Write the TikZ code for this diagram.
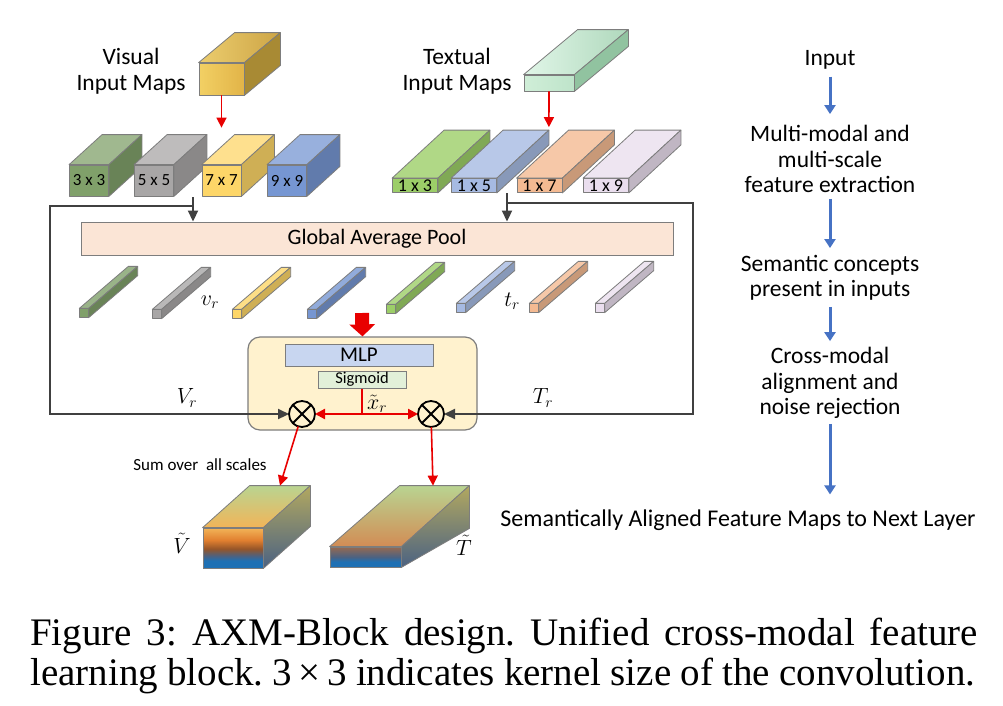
\RequirePackage{fix-cm}
\documentclass[tikz,border=0pt]{standalone}
\usepackage{amsmath}
\usepackage{fontspec}
\setmainfont{Carlito}
\newfontfamily\capfont{Liberation Serif}
\usepackage{tikz}
\usetikzlibrary{arrows.meta}

\begin{document}
\begin{tikzpicture}[x=1pt,y=-1pt,
  face/.style={draw=edge, line width=0.8pt, line join=round},
  vfront/.style={face, minimum width=39pt, minimum height=31pt, inner sep=0pt, font=\fontsize{17}{17}\selectfont},
  tfront/.style={face, minimum width=45pt, minimum height=14pt, inner sep=0pt, font=\fontsize{18}{18}\selectfont},
  barfront/.style={face, minimum size=8.5pt, inner sep=0pt},
  lbl/.style={inner sep=0pt, align=center, font=\fontsize{23.5}{25.5}\selectfont},
  mth/.style={inner sep=0pt, font=\fontsize{22}{26}\selectfont},
  fb/.style={draw=fbgray, line width=2.2pt},
  fbtip/.style={fb, -{Triangle[length=11pt,width=10pt]}},
  redarrow/.style={draw=arrred, line width=1.6pt, -{Triangle[length=10pt,width=10pt]}},
  bluearrow/.style={draw=arrblue, line width=3pt, -{Triangle[length=9pt,width=11pt]}},
  mult/.style={circle, draw=black, line width=1.8pt, minimum size=26pt, inner sep=0pt, outer sep=0pt}]
\definecolor{edge}{RGB}{125,125,125}
\definecolor{fbgray}{RGB}{64,64,64}
\definecolor{arrred}{RGB}{232,0,0}
\definecolor{arrblue}{RGB}{70,114,196}
\definecolor{vgreen}{RGB}{128,160,106}
\definecolor{vgray}{RGB}{168,166,166}
\definecolor{vyellow}{RGB}{253,214,104}
\definecolor{vblue}{RGB}{118,150,210}
\definecolor{tgreen}{RGB}{156,206,104}
\definecolor{tblue}{RGB}{166,186,226}
\definecolor{torange}{RGB}{244,186,146}
\definecolor{tlilac}{RGB}{234,222,238}
\definecolor{gapfill}{RGB}{251,229,214}
\definecolor{fusefill}{RGB}{255,242,206}
\definecolor{mlpfill}{RGB}{200,214,240}
\definecolor{sigfill}{RGB}{226,240,217}
\definecolor{vinl}{RGB}{242,208,100}
\definecolor{vinr}{RGB}{226,180,72}
\definecolor{vintl}{RGB}{236,205,110}
\definecolor{vintr}{RGB}{205,165,70}
\definecolor{vinside}{RGB}{168,138,52}
\definecolor{tinl}{RGB}{208,238,216}
\definecolor{tinr}{RGB}{190,228,202}
\definecolor{tintl}{RGB}{225,246,232}
\definecolor{tintr}{RGB}{175,216,188}
\definecolor{tinside}{RGB}{145,195,160}
\definecolor{ob}{RGB}{30,112,180}
\definecolor{oslate}{RGB}{75,98,130}
\definecolor{obrown}{RGB}{150,85,40}
\definecolor{oorange}{RGB}{225,128,48}
\definecolor{oyel}{RGB}{242,180,88}
\definecolor{ogreen}{RGB}{185,212,145}
\definecolor{ogold}{RGB}{248,212,115}
\definecolor{solive}{RGB}{178,168,96}
\definecolor{tfbrown}{RGB}{150,105,80}
\definecolor{tfront}{RGB}{210,140,85}
\pgfdeclareverticalshading{vfshade}{100bp}{color(0bp)=(ob); color(34bp)=(ob); color(40bp)=(oslate); color(49bp)=(obrown); color(60bp)=(oorange); color(75bp)=(oyel); color(100bp)=(oyel)}
\pgfdeclareverticalshading{tfshade}{100bp}{color(0bp)=(ob); color(38bp)=(ob); color(50bp)=(oslate); color(75bp)=(tfbrown); color(100bp)=(tfbrown)}

\fill[white] (0,0) rectangle (1003,705);
\useasboundingbox (0,0) rectangle (1003,705);

% inputs
\node[lbl] (vislbl) at (131,71) {Visual\\Input Maps};
\node[lbl] (txtlbl) at (457,71) {Textual\\Input Maps};
\node[face, minimum width=45pt, minimum height=32pt, inner sep=0pt, left color=vinl, right color=vinr] (vin) at (221.5,79) {};
\shade[face, left color=vintl, right color=vintr] (vin.north west) -- ++(36,-30) -- ([shift={(36,-30)}]vin.north east) -- (vin.north east) -- cycle;
\filldraw[face, fill=vinside] (vin.north east) -- ++(36,-30) -- ([shift={(36,-30)}]vin.south east) -- (vin.south east) -- cycle;
\node[face, minimum width=50pt, minimum height=16pt, inner sep=0pt, left color=tinl, right color=tinr] (tin) at (549,83) {};
\shade[face, left color=tintl, right color=tintr] (tin.north west) -- ++(54,-45) -- ([shift={(54,-45)}]tin.north east) -- (tin.north east) -- cycle;
\filldraw[face, fill=tinside] (tin.north east) -- ++(54,-45) -- ([shift={(54,-45)}]tin.south east) -- (tin.south east) -- cycle;

% multi-scale maps
\foreach \nm/\cx/\lab/\col in {v3/89/3 x 3/vgreen, v5/154/5 x 5/vgray, v7/221.5/7 x 7/vyellow, v9/287/9 x 9/vblue}{
  \node[vfront, fill=\col] (\nm) at (\cx,180.5) {\lab};
  \filldraw[face, fill=\col!75!white] (\nm.north west) -- ++(33,-30) -- ([shift={(33,-30)}]\nm.north east) -- (\nm.north east) -- cycle;
  \filldraw[face, fill=\col!82!black] (\nm.north east) -- ++(33,-30) -- ([shift={(33,-30)}]\nm.south east) -- (\nm.south east) -- cycle;
}
\foreach \nm/\cx/\lab/\col in {t3/415/1 x 3/tgreen, t5/474/1 x 5/tblue, t7/539.5/1 x 7/torange, t9/606/1 x 9/tlilac}{
  \node[tfront, fill=\col] (\nm) at (\cx,185.5) {\lab};
  \filldraw[face, fill=\col!80!white] (\nm.north west) -- ++(52,-48) -- ([shift={(52,-48)}]\nm.north east) -- (\nm.north east) -- cycle;
  \filldraw[face, fill=\col!82!black] (\nm.north east) -- ++(52,-48) -- ([shift={(52,-48)}]\nm.south east) -- (\nm.south east) -- cycle;
}
\draw[redarrow] (vin.south) -- ([yshift=37pt]v7.north);
\draw[redarrow] (tin.south) -- ([shift={(52,-51)}]t5.north east);

% pooling
\node[draw=edge, fill=gapfill, line width=1pt, minimum width=592pt, minimum height=33pt, inner sep=0pt, font=\fontsize{22}{22}\selectfont] (gap) at (377,238.5) {Global Average Pool};
\foreach \i/\bx/\by/\col in {1/80/317/vgreen, 2/153/318/vgray, 3/233/318/vyellow, 4/308/318/vblue, 5/387/313/tgreen, 6/457/312/tblue, 7/530/312/torange, 8/596/312/tlilac}{
  \node[barfront, fill=\col] (bar\i) at (\bx+4,\by-4) {};
  \filldraw[face, fill=\col!80!white] (bar\i.north west) -- ++(49,-42) -- ([shift={(49,-42)}]bar\i.north east) -- (bar\i.north east) -- cycle;
  \filldraw[face, fill=\col!82!black] (bar\i.north east) -- ++(49,-42) -- ([shift={(49,-42)}]bar\i.south east) -- (bar\i.south east) -- cycle;
}
\node[mth] (vr) at (210,302) {$v_r$};
\node[mth] (tr) at (512,301) {$t_r$};

% fusion block
\node[draw=edge, fill=fusefill, rounded corners=12pt, line width=1.2pt, minimum width=229pt, minimum height=93pt] (fuse) at (362.5,383.5) {};
\node[draw=edge, fill=mlpfill, line width=1pt, minimum width=148pt, minimum height=22pt, inner sep=0pt, font=\fontsize{21}{21}\selectfont] (mlp) at (359,355) {MLP};
\node[draw=edge, fill=sigfill, line width=1pt, minimum width=88pt, minimum height=17pt, inner sep=0pt, font=\fontsize{16.5}{16.5}\selectfont] (sig) at (362,379.5) {Sigmoid};
\node[mult] (m1) at (302,414) {};
\node[mult] (m2) at (431,414) {};
\draw[line width=1.8pt] (m1.north west) -- (m1.south east) (m1.north east) -- (m1.south west);
\draw[line width=1.8pt] (m2.north west) -- (m2.south east) (m2.north east) -- (m2.south west);
\coordinate (bigs) at (362,313);
\draw[line width=14pt, draw=arrred, -{Triangle[length=12pt,width=25pt]}] (bigs) -- (fuse.north);
\coordinate (xj) at (sig.south |- m1);
\draw[draw=arrred, line width=2.2pt] (sig.south) -- (xj);
\draw[redarrow, line width=2.2pt] (xj) -- (m1);
\draw[redarrow, line width=2.2pt] (xj) -- (m2);
\node[mth] (xr) at (377,404) {$\tilde{x}_r$};

% feedback of the maps
\coordinate (vtap) at (193,197);
\coordinate (vsplit) at (193,206);
\coordinate (vcorner) at (50,414);
\coordinate (ttap) at (507,193);
\coordinate (tsplit) at (507,203);
\coordinate (tcorner) at (693,414);
\draw[fbtip] (vtap) -- (vtap |- gap.north);
\draw[fbtip] (ttap) -- (ttap |- gap.north);
\draw[fbtip] (vsplit) -| (vcorner) -- (m1);
\draw[fbtip] (tsplit) -| (tcorner) -- (m2);
\node[mth] (vrr) at (187,398) {$V_r$};
\node[mth] (trr) at (543,398) {$T_r$};

% outputs
\node[face, minimum width=60pt, minimum height=40pt, inner sep=0pt, shade, shading=vfshade] (vout) at (233,548) {};
\shade[face, top color=ogreen, middle color=ogold, bottom color=oyel] (vout.north west) -- ++(47,-42) -- ([shift={(47,-42)}]vout.north east) -- (vout.north east) -- cycle;
\shade[face, top color=solive, middle color=obrown!85!black, bottom color=oslate] (vout.north east) -- ++(47,-42) -- ([shift={(47,-42)}]vout.south east) -- (vout.south east) -- cycle;
\node[face, minimum width=71pt, minimum height=20pt, inner sep=0pt, shade, shading=tfshade] (tout) at (365.5,557) {};
\shade[face, top color=ogreen, middle color=ogold, bottom color=tfront] (tout.north west) -- ++(70,-61) -- ([shift={(68,-61)}]tout.north east) -- (tout.north east) -- cycle;
\shade[face, top color=solive, middle color=obrown!80!black, bottom color=oslate] (tout.north east) -- ++(68,-61) -- ([shift={(68,-39)}]tout.south east) -- (tout.south east) -- cycle;
\node[mth] (vtl) at (182,543) {$\tilde{V}$};
\node[mth] (ttl) at (464,545) {$\tilde{T}$};
\node[inner sep=0pt, font=\fontsize{17}{17}\selectfont] (sum) at (200,465) {Sum over\ \ all scales};
\draw[redarrow] (m1) -- ([shift={(47,-42)}]vout.north);
\draw[redarrow] (m2) -- ([shift={(67.5,-61)}]tout.north);

% right column
\node[lbl] (inp) at (830,60) {Input};
\node[lbl] (ext) at (830,159) {Multi-modal and\\multi-scale\\feature extraction};
\node[lbl] (sem) at (830,278) {Semantic concepts\\present in inputs};
\node[lbl] (cross) at (830,383) {Cross-modal\\alignment and\\noise rejection};
\node[lbl, font=\fontsize{24}{26}\selectfont] (nxt) at (738,520) {Semantically Aligned Feature Maps to Next Layer};
\draw[bluearrow, shorten <=7pt, shorten >=11pt] (inp) -- (ext);
\draw[bluearrow, shorten <=6pt, shorten >=7pt] (ext) -- (sem);
\draw[bluearrow, shorten <=6pt, shorten >=6pt] (sem) -- (cross);
\draw[bluearrow, shorten <=5pt, shorten >=15pt] (cross) -- (nxt.north -| cross);

% caption
\node[anchor=base west, inner sep=0pt, font=\capfont\fontsize{39}{40}\selectfont\frenchspacing] (cap1) at (30,645) {\makebox[948pt][s]{Figure 3: AXM-Block design. Unified cross-modal feature}};
\node[anchor=base west, inner sep=0pt, font=\capfont\fontsize{39}{40}\selectfont\frenchspacing] (cap2) at (30,685) {\makebox[945pt][s]{learning block. 3\,×\,3 indicates kernel size of the convolution.}};
\end{tikzpicture}
\end{document}
